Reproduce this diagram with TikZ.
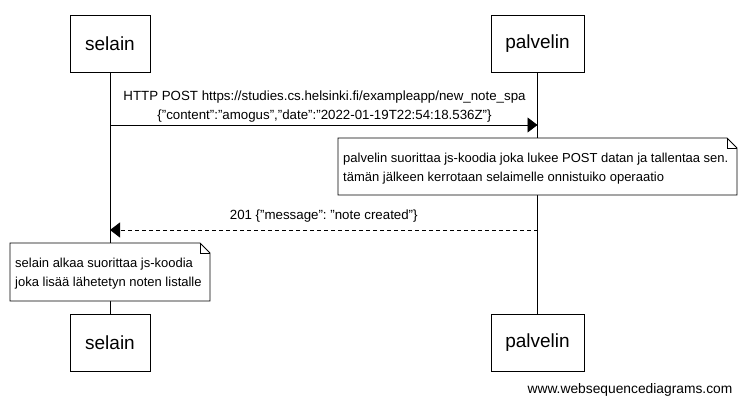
\documentclass[tikz,border=0pt]{standalone}
\usepackage{fontspec}
\setmainfont{Liberation Sans}
\usetikzlibrary{arrows.meta}
\frenchspacing
\begin{document}
\begin{tikzpicture}[x=1pt,y=-1pt,
  actor/.style={draw,line width=0.9pt,fill=white,minimum height=57pt,inner sep=0pt,font=\fontsize{19}{22}\selectfont},
  lbl/.style={font=\fontsize{13.3}{19}\selectfont,inner sep=0pt,align=center},
  notetext/.style={font=\fontsize{13}{19.5}\selectfont,inner sep=0pt,align=left,anchor=north west},
  life/.style={line width=0.9pt},
  msg/.style={line width=0.9pt,-{Triangle[length=10pt,width=15pt]}},
  reply/.style={line width=0.9pt,dash pattern=on 4pt off 3pt,-{Triangle[length=10pt,width=15pt]}},
  notebox/.style={draw,line width=0.9pt,fill=white}]
\useasboundingbox (0,0) rectangle (746,405);
% actors
\node[actor,minimum width=80pt] (s1) at (110,43.5) {selain};
\node[actor,minimum width=93pt] (p1) at (537.5,43.5) {palvelin};
\node[actor,minimum width=80pt] (s2) at (110,342.5) {selain};
\node[actor,minimum width=93pt] (p2) at (537.5,342.5) {palvelin};
% lifelines
\draw[life] (s1.south) -- (s2.north);
\draw[life] (p1.south) -- (p2.north);
% message 1
\coordinate (a1) at (110,125);
\coordinate (b1) at (537.5,125);
\draw[msg] (a1) -- (b1);
\node[lbl] (m1a) at (324.5,97.5) {HTTP POST https://studies.cs.helsinki.fi/exampleapp/new\_note\_spa};
\node[lbl] (m1b) at (324.5,116) {\{"content":"amogus","date":"2022-01-19T22:54:18.536Z"\}};
% note on palvelin
\draw[notebox] (338,138) -- (727,138) -- (737,148) -- (737,195) -- (338,195) -- cycle;
\draw[line width=0.9pt] (727,138) -- (727,148) -- (737,148);
\node[notetext] (n1) at (343,152.5) {palvelin suorittaa js-koodia joka lukee POST datan ja tallentaa sen.\\tämän jälkeen kerrotaan selaimelle onnistuiko operaatio};
% reply
\coordinate (a2) at (537.5,230);
\coordinate (b2) at (110,230);
\draw[reply] (a2) -- (b2);
\node[lbl] (m2) at (323.75,216) {201 \{"message": "note created"\}};
% note on selain
\draw[notebox] (10,243) -- (200,243) -- (210,253) -- (210,301) -- (10,301) -- cycle;
\draw[line width=0.9pt] (200,243) -- (200,253) -- (210,253);
\node[notetext] (n2) at (15,257.5) {selain alkaa suorittaa js-koodia\\joka lisää lähetetyn noten listalle};
% watermark
\node[font=\fontsize{13.8}{15}\selectfont,inner sep=0pt] (wm) at (630,390) {www.websequencediagrams.com};
\end{tikzpicture}
\end{document}
